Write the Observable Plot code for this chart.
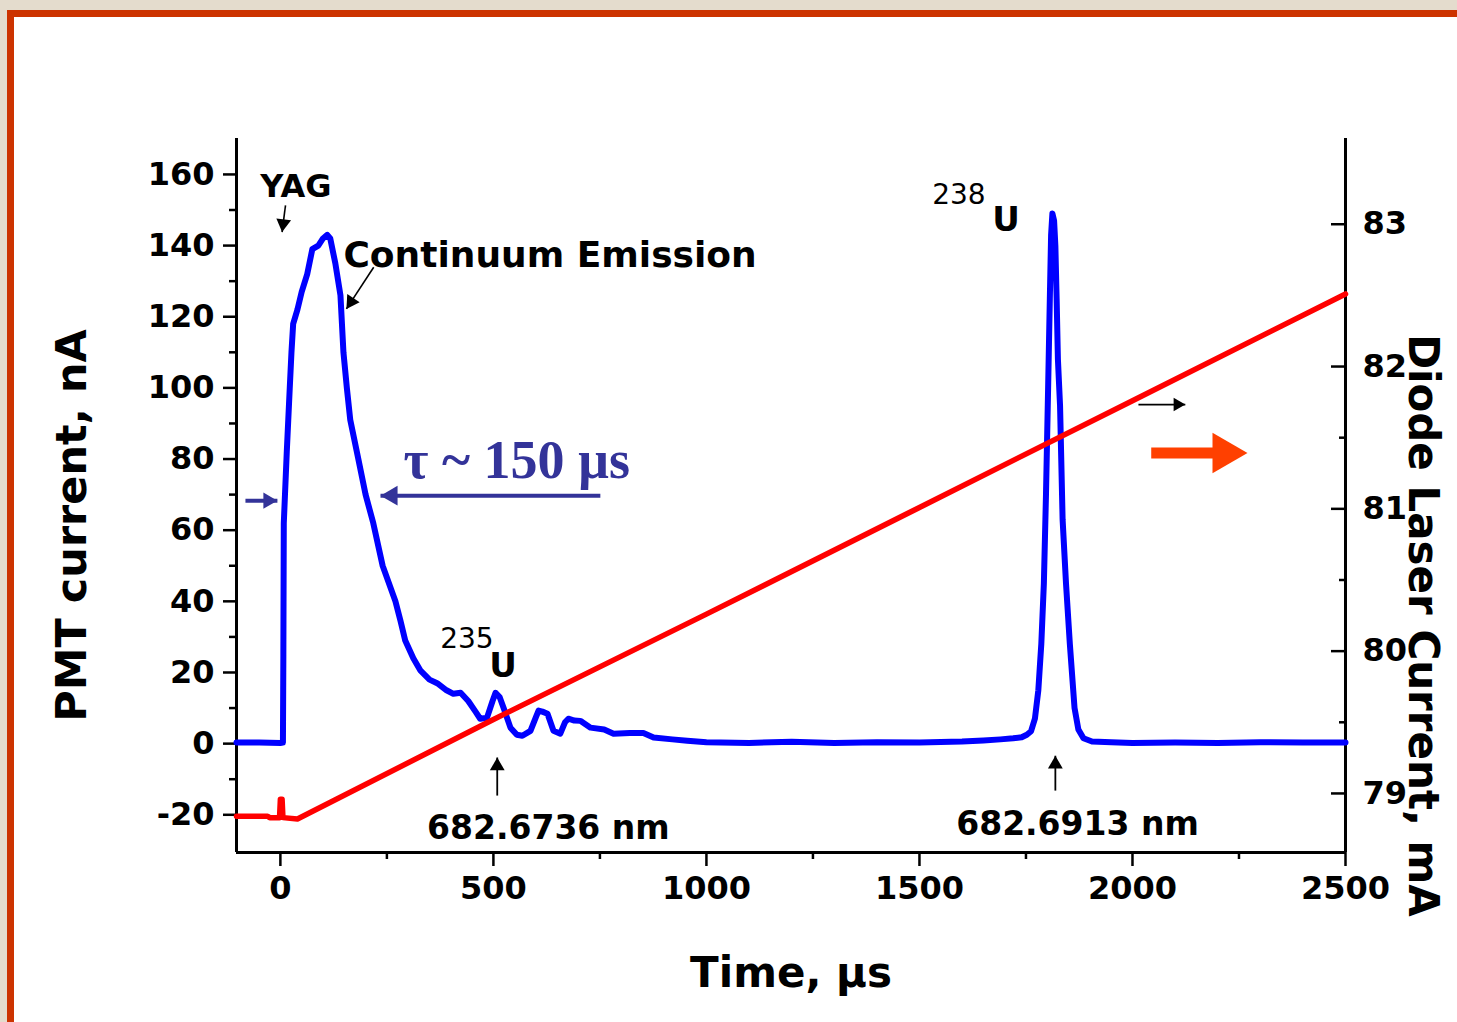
<!DOCTYPE html>
<html>
<head>
<meta charset="utf-8">
<script src="https://cdn.jsdelivr.net/npm/d3@7"></script>
<script src="https://cdn.jsdelivr.net/npm/@observablehq/plot@0.6"></script>
<style>
  html, body { margin: 0; padding: 0; }
  body { width: 1457px; height: 1022px; overflow: hidden; background: #e4dccd; position: relative; }
  #frame { position: absolute; left: 7px; top: 10px; width: 1470px; height: 1040px; background: #ffffff;
           border-left: 7px solid #cc3300; border-top: 7px solid #cc3300; }
  #chart { position: absolute; left: 0; top: 0; }
</style>
</head>
<body>
<div id="frame"></div>
<div id="chart"></div>
<script>
// PMT signal (nA) versus time (µs)
const pmtTime = [
  -103, -50, 0, 6, 7, 8, 15, 22, 26, 30, 40, 50, 63, 75, 89, 100, 110, 117, 129, 141, 148, 156, 164,
  183, 200, 218, 240, 270, 282, 293, 312, 329, 350, 368, 390, 406, 423, 441, 458, 469, 485, 498, 505,
  515, 524, 540, 555, 568, 587, 600, 606, 615, 627, 641, 657, 668, 676, 690, 704, 728, 760, 782, 820,
  852, 876, 920, 955, 1000, 1100, 1200, 1300, 1400, 1500, 1600, 1650, 1690, 1720, 1740, 1752, 1762,
  1771, 1779, 1786, 1792, 1797, 1802, 1806, 1809, 1812, 1816, 1819, 1822, 1825, 1830, 1836, 1844,
  1853, 1864, 1873, 1885, 1905, 1950, 2000, 2100, 2200, 2300, 2400, 2500
];
const pmtCurrent = [
  0.3, 0.3, 0.2, 0.3, 25, 62, 82, 100, 110, 118, 122, 127, 132, 139, 140, 142, 143, 142, 135, 126, 110, 100, 91,
  80, 70, 62, 50, 40, 34.5, 29, 24, 20.5, 18, 17, 15, 14, 14.3, 12, 9, 7, 7.3, 12, 14.3,
  13, 10, 4.5, 2.5, 2.2, 3.6, 7.5, 9.3, 9, 8.4, 3.6, 2.8, 6, 7, 6.5, 6.4, 4.5, 4, 2.8, 3,
  3, 1.7, 1.2, 0.8, 0.4, 0.2, 0.5, 0.2, 0.4, 0.3, 0.6, 0.9, 1.2, 1.5, 1.8, 2.5, 3.5,
  7, 15, 28, 45, 70, 100, 125, 143, 149, 147, 140, 125, 108, 95, 63, 45,
  28, 10, 4, 1.5, 0.6, 0.4, 0.2, 0.3, 0.2, 0.4, 0.3, 0.3
];

// Diode laser current (mA) versus time (µs)
const diodeTime = [-103, -30, -25, -2, 0, 4, 6, 40, 500, 1000, 1500, 2000, 2500];
const diodeCurrent = [78.84, 78.84, 78.83, 78.83, 78.96, 78.96, 78.83, 78.82, 79.52, 80.26, 81.01, 81.76, 82.51];

// Axes
const xDomain = [-103, 2500];
const pmtDomain = [-30.6, 170.1];
const xTicks = [0, 500, 1000, 1500, 2000, 2500];
const xMinorTicks = [250, 750, 1250, 1750, 2250];
const pmtTicks = [-20, 0, 20, 40, 60, 80, 100, 120, 140, 160];
const pmtMinorTicks = [-10, 10, 30, 50, 70, 90, 110, 130, 150];
const diodeTicks = [79, 80, 81, 82, 83];
const diodeMinorTicks = [79.5, 80.5, 81.5, 82.5];

// The diode current shares the PMT scale: 1 mA = 40 nA, 79.35 mA sits on 0 nA
const MA_AT_ZERO = 79.35;
const NA_PER_MA = 40;
const toNA = (mA) => (mA - MA_AT_ZERO) * NA_PER_MA;

// Annotations (data coordinates)
const peakLabels = [
  {text: "YAG", x: -47, y: 156.4, size: 32},
  {text: "Continuum Emission", x: 148, y: 137.2, size: 36}
];
const wavelengthLabels = [
  {text: "682.6736 nm", x: 629, y: -23.9},
  {text: "682.6913 nm", x: 1871, y: -22.8}
];
const isotopes = [
  {mass: "235", mx: 375, my: 29.5, ux: 490, uy: 21.7},
  {mass: "238", mx: 1530, my: 154.1, ux: 1671, uy: 147.1}
];
const tauLabel = {text: "τ ~ 150 µs", x: 289, y: 79.6};
const tauArrow = {from: 751, to: 235, at: 69.7};
const riseMarker = {from: -82, to: -7, at: 68.3};
const wavelengthArrows = [{t: 509, from: -14.6, to: -3.9}, {t: 1819, from: -13.2, to: -3.4}];
const axisHint = {from: 2014, to: 2124, at: 95.3};
const diodeArrow = {from: 2044, shaftEnd: 2200, to: 2270, at: 81.7};
const slantArrows = [
  {x1: 12, y1: 151.3, x2: 4, y2: 143.8, dash: null},
  {x1: 219, y1: 133.9, x2: 155, y2: 122.2, dash: "4,2"}
];

const pmt = pmtTime.map((t, i) => ({t, nA: pmtCurrent[i]}));
const diode = diodeTime.map((t, i) => ({t, mA: diodeCurrent[i]}));

// Layout
const W = 1457, H = 1022;
const M = {left: 236, right: 112, top: 138, bottom: 170};
const pxPerT = (W - M.left - M.right) / (xDomain[1] - xDomain[0]);
const pxPerNA = (H - M.top - M.bottom) / (pmtDomain[1] - pmtDomain[0]);

// Filled triangular arrowheads: tip offset from the centroid of d3's triangle symbol
const tipOffset = (r) => 2 * Math.sqrt(Math.PI * r * r / (3 * Math.sqrt(3)));
function head(points, {r, angle, fill}) {
  const o = tipOffset(r), a = angle * Math.PI / 180;
  return Plot.dot(points, {
    x: "x", y: "y", r, symbol: "triangle", rotate: angle, fill, stroke: "none",
    dx: -o * Math.sin(a), dy: o * Math.cos(a)
  });
}
function slantAngle(s) {
  const dx = (s.x2 - s.x1) * pxPerT, dy = -(s.y2 - s.y1) * pxPerNA;
  return Math.atan2(dx, -dy) * 180 / Math.PI;
}

const bold = {fontWeight: "bold", fontFamily: "DejaVu Sans"};
const navy = "#333399";
const plain = (d) => String(d);

const plot = Plot.plot({
  width: W, height: H,
  marginLeft: M.left, marginRight: M.right, marginTop: M.top, marginBottom: M.bottom,
  style: {background: "transparent", fontFamily: "DejaVu Sans", color: "#000", overflow: "visible"},
  x: {domain: xDomain},
  y: {domain: pmtDomain},
  marks: [
    // axes
    Plot.axisX({ticks: xTicks, tickFormat: plain, tickSize: 14, tickPadding: 10, strokeWidth: 2.5, fontSize: 32, ...bold, label: null}),
    Plot.axisX({ticks: xMinorTicks, tickSize: 7, strokeWidth: 2.5, fill: "none", label: null}),
    Plot.axisY({ticks: pmtTicks, tickFormat: plain, anchor: "left", tickSize: 13, tickPadding: 9, strokeWidth: 2.5, fontSize: 32, ...bold, label: null}),
    Plot.axisY({ticks: pmtMinorTicks, anchor: "left", tickSize: 7, strokeWidth: 2.5, fill: "none", label: null}),
    Plot.axisY({ticks: diodeTicks.map(toNA), anchor: "right", tickSize: 0, tickPadding: 17, fontSize: 32, ...bold,
      tickFormat: (d) => String(Math.round(d / NA_PER_MA + MA_AT_ZERO)), label: null}),
    Plot.axisY({ticks: diodeTicks.map(toNA), anchor: "right", tickSize: 15, dx: -15, strokeWidth: 2.5, fill: "none", label: null}),
    Plot.axisY({ticks: diodeMinorTicks.map(toNA), anchor: "right", tickSize: 7, dx: -7, strokeWidth: 2.5, fill: "none", label: null}),
    Plot.ruleX([xDomain[0]], {strokeWidth: 3}),
    Plot.ruleX([xDomain[1]], {strokeWidth: 3}),
    Plot.ruleY([pmtDomain[0]], {strokeWidth: 3}),

    // axis titles
    Plot.text(["PMT current, nA"], {text: (d) => d, frameAnchor: "left", textAnchor: "middle", dx: -164, dy: 30,
      rotate: -90, fontSize: 43, ...bold}),
    Plot.text(["Diode Laser Current, mA"], {text: (d) => d, frameAnchor: "right", textAnchor: "middle", dx: 77, dy: 130,
      rotate: 90, fontSize: 42, ...bold}),
    Plot.text(["Time, µs"], {text: (d) => d, frameAnchor: "bottom", dy: 134, fontSize: 42, ...bold}),

    // signals
    Plot.line(pmt, {x: "t", y: "nA", stroke: "#0000ff", strokeWidth: 6, strokeLinejoin: "round"}),
    Plot.line(diode, {x: "t", y: (d) => toNA(d.mA), stroke: "#ff0000", strokeWidth: 5.5}),

    // labels
    Plot.text(peakLabels, {x: "x", y: "y", text: "text", fontSize: (d) => d.size, textAnchor: "start", ...bold}),
    Plot.text(wavelengthLabels, {x: "x", y: "y", text: "text", fontSize: 33, ...bold}),
    Plot.text(isotopes, {x: "mx", y: "my", text: "mass", fontSize: 28, textAnchor: "start"}),
    Plot.text(isotopes, {x: "ux", y: "uy", text: () => "U", fontSize: 34, textAnchor: "start", ...bold}),
    Plot.text([tauLabel], {x: "x", y: "y", text: "text", fontSize: 54, textAnchor: "start",
      fontFamily: "Liberation Serif", fontWeight: "bold", fill: navy}),

    // arrows: shafts
    Plot.link([tauArrow, riseMarker], {x1: "from", x2: "to", y1: "at", y2: "at", stroke: navy, strokeWidth: 4}),
    Plot.link(wavelengthArrows, {x1: "t", x2: "t", y1: "from", y2: "to", stroke: "#000", strokeWidth: 1.8}),
    Plot.link([axisHint], {x1: "from", x2: "to", y1: "at", y2: "at", stroke: "#000", strokeWidth: 1.8}),
    Plot.link([diodeArrow], {x1: "from", x2: "shaftEnd", y1: "at", y2: "at", stroke: "#ff4000", strokeWidth: 11}),
    Plot.link(slantArrows, {x1: "x1", y1: "y1", x2: "x2", y2: "y2", stroke: "#000", strokeWidth: 1.6,
      strokeDasharray: (d) => d.dash}),

    // arrows: heads
    head([{x: tauArrow.to, y: tauArrow.at}], {r: 7.3, angle: -90, fill: navy}),
    head([{x: riseMarker.to, y: riseMarker.at}], {r: 6, angle: 90, fill: navy}),
    head(wavelengthArrows.map((a) => ({x: a.t, y: a.to})), {r: 5.5, angle: 0, fill: "#000"}),
    head([{x: axisHint.to, y: axisHint.at}], {r: 5, angle: 90, fill: "#000"}),
    head([{x: diodeArrow.to, y: diodeArrow.at}], {r: 15, angle: 90, fill: "#ff4000"}),
    ...slantArrows.map((s) => head([{x: s.x2, y: s.y2}], {r: 5.5, angle: slantAngle(s), fill: "#000"}))
  ]
});

document.getElementById("chart").appendChild(plot);
</script>
</body>
</html>
